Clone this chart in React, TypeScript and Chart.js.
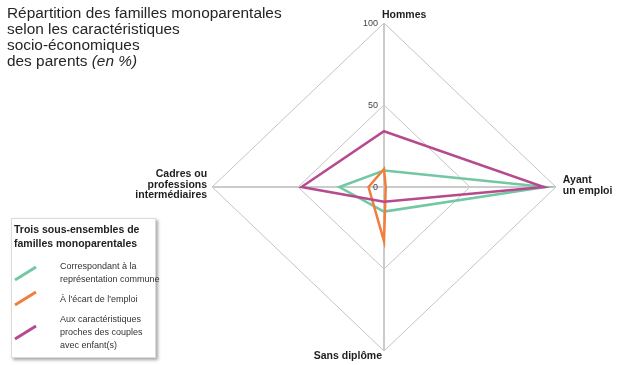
import React, { useEffect, useRef } from "react";
import { Chart, registerables, RadialLinearScale } from "chart.js";

Chart.register(...registerables);

// ---- Data ----
const CATEGORIES = ["Hommes", "Ayant un emploi", "Sans diplôme", "Cadres ou professions intermédiaires"];
const CATEGORY_LINES = [["Hommes"], ["Ayant", "un emploi"], ["Sans diplôme"], ["Cadres ou", "professions", "intermédiaires"]];
const SERIES_NAMES = [
  "Correspondant à la représentation commune",
  "À l'écart de l'emploi",
  "Aux caractéristiques proches des couples avec enfant(s)",
];
const SERIES_LEGEND_LINES = [
  ["Correspondant à la", "représentation commune"],
  ["À l'écart de l'emploi"],
  ["Aux caractéristiques", "proches des couples", "avec enfant(s)"],
];
const COMMUNE = [10, 94, 15, 26];
const ECART_EMPLOI = [11, 1, 33, 9];
const PROCHES_COUPLES = [34, 93, 9, 48];
const TICK_VALUES = [0, 50, 100];
const COLORS = ["#72c8a3", "#f07f3b", "#b64a8e"];
const TITLE_LINES = ["Répartition des familles monoparentales", "selon les caractéristiques", "socio-économiques"];
const TITLE_LAST = "des parents";
const TITLE_UNIT = "(en %)";
const LEGEND_TITLE = ["Trois sous-ensembles de", "familles monoparentales"];

const FONT = '"Liberation Sans", Arial, Helvetica, sans-serif';
const KX = 1.048; // horizontal stretch of the diamond

const stretchPlugin = {
  id: "stretch",
  afterLayout(chart: any) {
    const s = chart.scales.r;
    if (!s) return;
    s.getPointPosition = function (index: number, d: number) {
      const p = RadialLinearScale.prototype.getPointPosition.call(this, index, d);
      return { x: this.xCenter + (p.x - this.xCenter) * KX, y: p.y, angle: p.angle };
    };
  },
};

const labelsPlugin = {
  id: "customLabels",
  afterDraw(chart: any) {
    const s = chart.scales.r;
    const ctx = chart.ctx;
    ctx.save();
    // tick labels
    ctx.font = `9px ${FONT}`;
    ctx.fillStyle = "#444";
    ctx.textAlign = "right";
    ctx.textBaseline = "middle";
    TICK_VALUES.forEach((v) => {
      const p = s.getPointPositionForValue(0, v);
      ctx.fillText(String(v), s.xCenter - 6, p.y + 1);
    });
    // point labels
    ctx.font = `bold 10.5px ${FONT}`;
    ctx.fillStyle = "#1e1e1e";
    ctx.textBaseline = "alphabetic";
    const top = s.getPointPositionForValue(0, 100);
    ctx.textAlign = "left";
    ctx.fillText(CATEGORY_LINES[0][0], top.x - 2, top.y - 5);
    const right = s.getPointPositionForValue(1, 100);
    CATEGORY_LINES[1].forEach((l, i) => ctx.fillText(l, right.x + 7, right.y - 4 + i * 11));
    const bottom = s.getPointPositionForValue(2, 100);
    ctx.textAlign = "right";
    ctx.fillText(CATEGORY_LINES[2][0], bottom.x - 2, bottom.y + 8);
    const left = s.getPointPositionForValue(3, 100);
    CATEGORY_LINES[3].forEach((l, i) => ctx.fillText(l, left.x - 5, left.y - 10 + i * 10.5));
    ctx.restore();
  },
};

export default function App() {
  const ref = useRef<HTMLCanvasElement>(null);
  useEffect(() => {
    if (!ref.current) return;
    const values = [COMMUNE, ECART_EMPLOI, PROCHES_COUPLES];
    const orders = [2, 1, 0];
    const chart = new Chart(ref.current, {
      type: "radar",
      data: {
        labels: CATEGORIES,
        datasets: values.map((d, i) => ({
          label: SERIES_NAMES[i],
          data: d,
          borderColor: COLORS[i],
          backgroundColor: "transparent",
          borderWidth: 2.5,
          fill: false,
          pointRadius: 0,
          tension: 0,
          order: orders[i],
        })),
      },
      options: {
        responsive: false,
        animation: false,
        layout: { padding: { top: 23, bottom: 14, left: 220, right: 78 } },
        plugins: { legend: { display: false }, tooltip: { enabled: false }, title: { display: false } },
        scales: {
          r: {
            min: 0,
            max: 100,
            ticks: { stepSize: 50, display: false },
            pointLabels: { display: false },
            grid: { color: "#c4c4c4", lineWidth: 1 },
            angleLines: { color: "#cbcbcb", lineWidth: 2 },
          },
        },
      } as any,
      plugins: [stretchPlugin, labelsPlugin],
    });
    return () => chart.destroy();
  }, []);

  const textBase: React.CSSProperties = { position: "absolute", fontFamily: FONT, color: "#222", whiteSpace: "nowrap" };
  const legendTops = [259.5, 292.5, 313];
  const lineYs = [[280, 267], [305, 292], [339, 326]];

  return (
    <div style={{ position: "absolute", left: 0, top: 0, width: 626, height: 365, background: "#fff" }}>
      <canvas ref={ref} width={626} height={365} style={{ position: "absolute", left: 0, top: 0 }} />
      <div style={{ ...textBase, left: 7, top: 5, fontSize: 15.4, lineHeight: "16px", color: "#262626" }}>
        {TITLE_LINES.map((l) => (
          <div key={l}>{l}</div>
        ))}
        <div>
          {TITLE_LAST} <i>{TITLE_UNIT}</i>
        </div>
      </div>
      <div
        style={{
          position: "absolute",
          left: 11,
          top: 218,
          width: 143,
          height: 138,
          background: "#fff",
          border: "1px solid #dcdcdc",
          boxShadow: "2px 2px 3px rgba(0,0,0,0.35)",
        }}
      />
      <div style={{ ...textBase, left: 14, top: 221.5, fontSize: 10.5, lineHeight: "14px", fontWeight: "bold" }}>
        {LEGEND_TITLE.map((l) => (
          <div key={l}>{l}</div>
        ))}
      </div>
      <svg width={626} height={365} style={{ position: "absolute", left: 0, top: 0 }}>
        {lineYs.map((ys, i) => (
          <line key={i} x1={15} y1={ys[0]} x2={36} y2={ys[1]} stroke={COLORS[i]} strokeWidth={3} />
        ))}
      </svg>
      {SERIES_LEGEND_LINES.map((lines, i) => (
        <div key={i} style={{ ...textBase, left: 60, top: legendTops[i], fontSize: 9, lineHeight: "13px", color: "#333" }}>
          {lines.map((l) => (
            <div key={l}>{l}</div>
          ))}
        </div>
      ))}
    </div>
  );
}
